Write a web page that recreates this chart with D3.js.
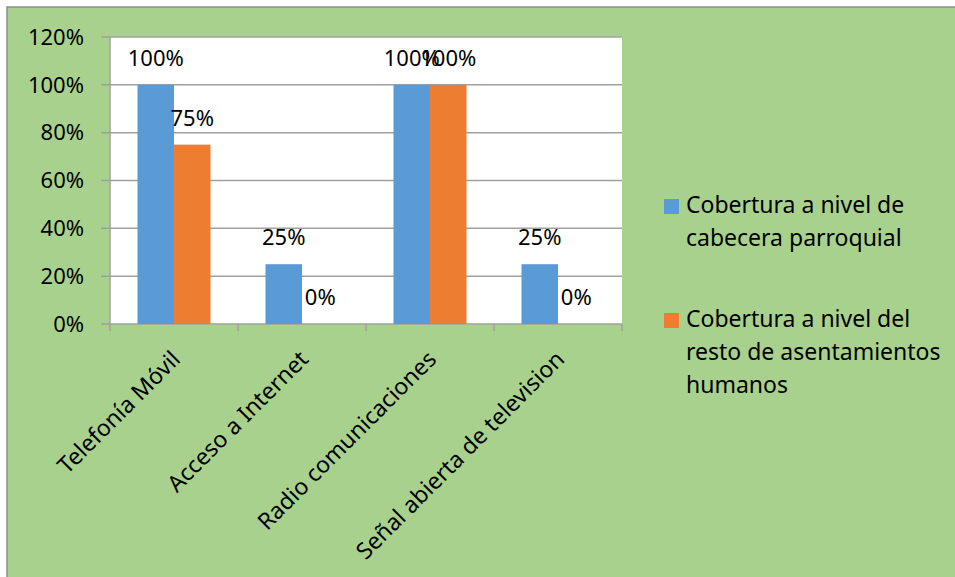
<!DOCTYPE html>
<html lang="es">
<head>
<meta charset="UTF-8">
<title>Cobertura</title>
<style>
    body { margin: 0; background: #fff; }
    svg text { font-family: "Noto Sans", sans-serif; fill: #000; }
</style>
<script src="https://d3js.org/d3.v7.min.js"></script>
</head>
<body>
<svg id="chart" width="955" height="577"></svg>
<script>
    // data
    var categories = ["Telefonía Móvil", "Acceso a Internet", "Radio comunicaciones", "Señal abierta de television"];
    var cabecera = [1.00, 0.25, 1.00, 0.25];
    var resto = [0.75, 0, 1.00, 0];
    var seriesNames = [
        ["Cobertura a nivel de", "cabecera parroquial"],
        ["Cobertura a nivel del", "resto de asentamientos", "humanos"]
    ];
    var yTicks = [0, 0.2, 0.4, 0.6, 0.8, 1.0, 1.2];
    var colors = ["#5b9bd5", "#ed7d31"];

    var svg = d3.select("#chart");
    var numSize = 22, legendSize = 23, catSize = 23;

    // green background box
    svg.append("rect")
        .attr("x", 7).attr("y", 7)
        .attr("width", 960).attr("height", 580)
        .attr("fill", "#a9d18e")
        .attr("stroke", "#8c8c8c")
        .attr("stroke-width", 1.5);

    var plotLeft = 110, plotRight = 622, plotTop = 37, plotBottom = 324;

    svg.append("rect")
        .attr("x", plotLeft).attr("y", plotTop)
        .attr("width", plotRight - plotLeft).attr("height", plotBottom - plotTop)
        .attr("fill", "#fff");

    var x = d3.scaleBand().domain(categories).range([plotLeft, plotRight]).paddingInner(0).paddingOuter(0);
    var y = d3.scaleLinear().domain([0, 1.2]).range([plotBottom, plotTop]);
    var barW = 36.5;

    // gridlines
    svg.append("g").selectAll("line")
        .data(yTicks)
        .join("line")
        .attr("x1", plotLeft - 9).attr("x2", plotRight)
        .attr("y1", function (d) { return y(d); })
        .attr("y2", function (d) { return y(d); })
        .attr("stroke", "#a0a0a0")
        .attr("stroke-width", 1.5);

    // y labels
    svg.append("g").selectAll("text")
        .data(yTicks)
        .join("text")
        .attr("x", 84)
        .attr("y", function (d) { return y(d); })
        .attr("dy", "0.35em")
        .attr("text-anchor", "end")
        .style("font-size", numSize + "px")
        .text(function (d) { return Math.round(d * 100) + "%"; });

    // left axis line
    svg.append("line")
        .attr("x1", plotLeft).attr("x2", plotLeft)
        .attr("y1", plotTop).attr("y2", plotBottom + 7)
        .attr("stroke", "#a0a0a0").attr("stroke-width", 1.5);

    // x ticks
    var bounds = categories.map(function (c) { return x(c) + x.bandwidth(); });
    svg.append("g").selectAll("line")
        .data(bounds)
        .join("line")
        .attr("x1", function (d) { return d; })
        .attr("x2", function (d) { return d; })
        .attr("y1", plotBottom).attr("y2", plotBottom + 7)
        .attr("stroke", "#a0a0a0").attr("stroke-width", 1.5);

    var series = [cabecera, resto];
    series.forEach(function (vals, s) {
        var g = svg.append("g");
        var bx = function (i) {
            return x(categories[i]) + x.bandwidth() / 2 - barW + s * barW;
        };
        g.selectAll("rect")
            .data(vals)
            .join("rect")
            .attr("x", function (d, i) { return bx(i); })
            .attr("y", function (d) { return y(d); })
            .attr("width", barW)
            .attr("height", function (d) { return plotBottom - y(d); })
            .attr("fill", colors[s]);
        g.selectAll("text")
            .data(vals)
            .join("text")
            .attr("x", function (d, i) { return bx(i) + barW / 2; })
            .attr("y", function (d) { return y(d) - 19; })
            .attr("text-anchor", "middle")
            .style("font-size", numSize + "px")
            .text(function (d) { return Math.round(d * 100) + "%"; });
    });

    // category labels, rotated
    svg.append("g").selectAll("text")
        .data(categories)
        .join("text")
        .attr("transform", function (d) {
            return "translate(" + (x(d) + x.bandwidth() / 2 + 2) + "," + 355 + ") rotate(-45)";
        })
        .attr("text-anchor", "end")
        .attr("dy", "0.35em")
        .style("font-size", catSize + "px")
        .text(function (d) { return d; });

    // legend
    var legendY = [213, 327];
    seriesNames.forEach(function (lines, s) {
        svg.append("rect")
            .attr("x", 664).attr("y", legendY[s] - 14)
            .attr("width", 15).attr("height", 15)
            .attr("fill", colors[s]);
        svg.append("g").selectAll("text")
            .data(lines)
            .join("text")
            .attr("x", 686)
            .attr("y", function (d, i) { return legendY[s] + i * 33; })
            .style("font-size", legendSize + "px")
            .text(function (d) { return d; });
    });
</script>
</body>
</html>
